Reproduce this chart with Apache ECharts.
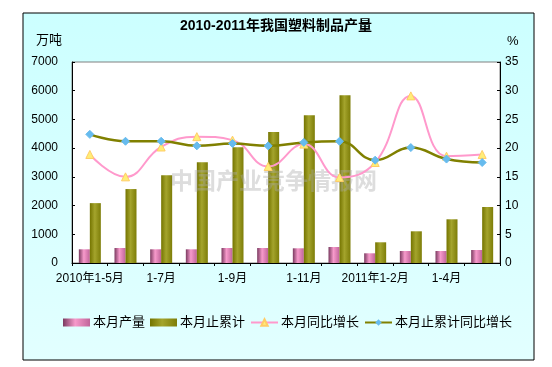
<!DOCTYPE html>
<html><head><meta charset="utf-8">
<script src="https://cdn.jsdelivr.net/npm/echarts@6/dist/echarts.min.js"></script>
<style>html,body{margin:0;padding:0;background:#fff}#c{width:552px;height:367px}</style>
</head><body><div id="c"></div>
<script>
const categories = ['2010年1-5月','1-6月','1-7月','1-8月','1-9月','1-10月','1-11月','1-12月','2011年1-2月','1-3月','1-4月','1-5月'];
const monthOutput = [477, 522, 477, 477, 522, 522, 512, 557, 338, 418, 418, 453];
const cumulative = [2085, 2575, 3054, 3507, 4029, 4562, 5144, 5840, 721, 1104, 1522, 1950];
const monthYoY = [18.9, 15.0, 20.2, 22.0, 21.4, 16.8, 20.7, 14.9, 17.5, 29.1, 18.6, 18.9];
const cumYoY = [22.4, 21.2, 21.2, 20.4, 20.8, 20.4, 21.0, 21.2, 17.9, 20.1, 18.1, 17.5];
const leftTicks = {min: 0, max: 7000, interval: 1000};
const rightTicks = {min: 0, max: 35, interval: 5};

const FONT = "'Liberation Sans','Noto Sans CJK SC',sans-serif";
const chart = echarts.init(document.getElementById('c'), null, {renderer: 'canvas'});
const grad = (a, b, c) => new echarts.graphic.LinearGradient(0, 0, 1, 0, [
  {offset: 0, color: a}, {offset: 0.45, color: b}, {offset: 1, color: c}]);

chart.setOption({
  animation: false,
  backgroundColor: '#ffffff',
  textStyle: {fontFamily: FONT, color: '#000'},
  graphic: [
    {type: 'rect', z: -10, shape: {x: 23, y: 13, width: 511, height: 347},
     style: {fill: new echarts.graphic.LinearGradient(0, 0, 0, 1, [
       {offset: 0, color: '#ccffff'}, {offset: 1, color: '#e2ffff'}]),
       stroke: '#000', lineWidth: 1}},
    {type: 'text', left: 'center', top: 19, style: {text: '2010-2011年我国塑料制品产量', fontFamily: FONT, fontWeight: 'bold', fontSize: 14, fill: '#000'}, z: 10},
    {type: 'text', left: 36, top: 34, style: {text: '万吨', fontFamily: FONT, fontSize: 13, fill: '#000'}, z: 10},
    {type: 'text', left: 507, top: 35, style: {text: '%', fontFamily: FONT, fontSize: 13, fill: '#000'}, z: 10},
    {type: 'text', left: 170, top: 171, style: {text: '中国产业竞争情报网', fontFamily: FONT, fontWeight: 'bold', fontSize: 23, fill: 'rgba(170,170,170,0.4)'}, z: 5}
  ],
  grid: {left: 72, right: 52, top: 62, bottom: 104, show: true, backgroundColor: '#fff', borderColor: '#808080', borderWidth: 1},
  legend: {
    left: 58, top: 311, itemWidth: 27, itemHeight: 8, itemGap: 5,
    textStyle: {fontFamily: FONT, fontSize: 13, color: '#000', padding: [0, 0, 0, -2]},
    data: [{name: '本月产量', icon: 'rect'}, {name: '本月止累计', icon: 'rect'}, '本月同比增长', '本月止累计同比增长']
  },
  xAxis: {
    type: 'category', data: categories,
    axisLine: {lineStyle: {color: '#000', width: 1}},
    axisTick: {show: true, interval: 0, length: 3, lineStyle: {color: '#000'}},
    axisLabel: {interval: 1, fontSize: 12, color: '#000', margin: 10, fontFamily: FONT},
    splitLine: {show: false}
  },
  yAxis: [
    {type: 'value', min: leftTicks.min, max: leftTicks.max, interval: leftTicks.interval,
     axisLine: {show: true, lineStyle: {color: '#000'}},
     axisTick: {show: true, inside: true, length: 3, lineStyle: {color: '#000'}},
     axisLabel: {fontSize: 12, color: '#000', margin: 14, fontFamily: FONT, formatter: v => String(v)},
     splitLine: {show: false}},
    {type: 'value', min: rightTicks.min, max: rightTicks.max, interval: rightTicks.interval,
     position: 'right',
     axisLine: {show: true, lineStyle: {color: '#000'}},
     axisTick: {show: true, inside: true, length: 3, lineStyle: {color: '#000'}},
     axisLabel: {fontSize: 12, color: '#000', margin: 5, fontFamily: FONT, formatter: v => String(v)},
     splitLine: {show: false}}
  ],
  series: [
    {name: '本月产量', type: 'bar', data: monthOutput, barWidth: 11, barGap: '0%',
     itemStyle: {color: grad('#7a3a60', '#f79acb', '#c0649a')}},
    {name: '本月止累计', type: 'bar', data: cumulative, barWidth: 11, barGap: '0%',
     itemStyle: {color: grad('#747400', '#a4a42c', '#7d7d08')}},
    {name: '本月同比增长', type: 'line', yAxisIndex: 1, data: monthYoY, smooth: 0.45, z: 6,
     lineStyle: {color: '#ff99cc', width: 2},
     symbol: 'triangle', symbolSize: 8,
     itemStyle: {color: '#ffee77', borderColor: '#ffcc66', borderWidth: 1}},
    {name: '本月止累计同比增长', type: 'line', yAxisIndex: 1, data: cumYoY, smooth: 0.45, z: 7,
     lineStyle: {color: '#808000', width: 2.5},
     symbol: 'diamond', symbolSize: 8,
     itemStyle: {color: '#66bbee', borderColor: '#66bbee'}}
  ]
});
</script></body></html>
